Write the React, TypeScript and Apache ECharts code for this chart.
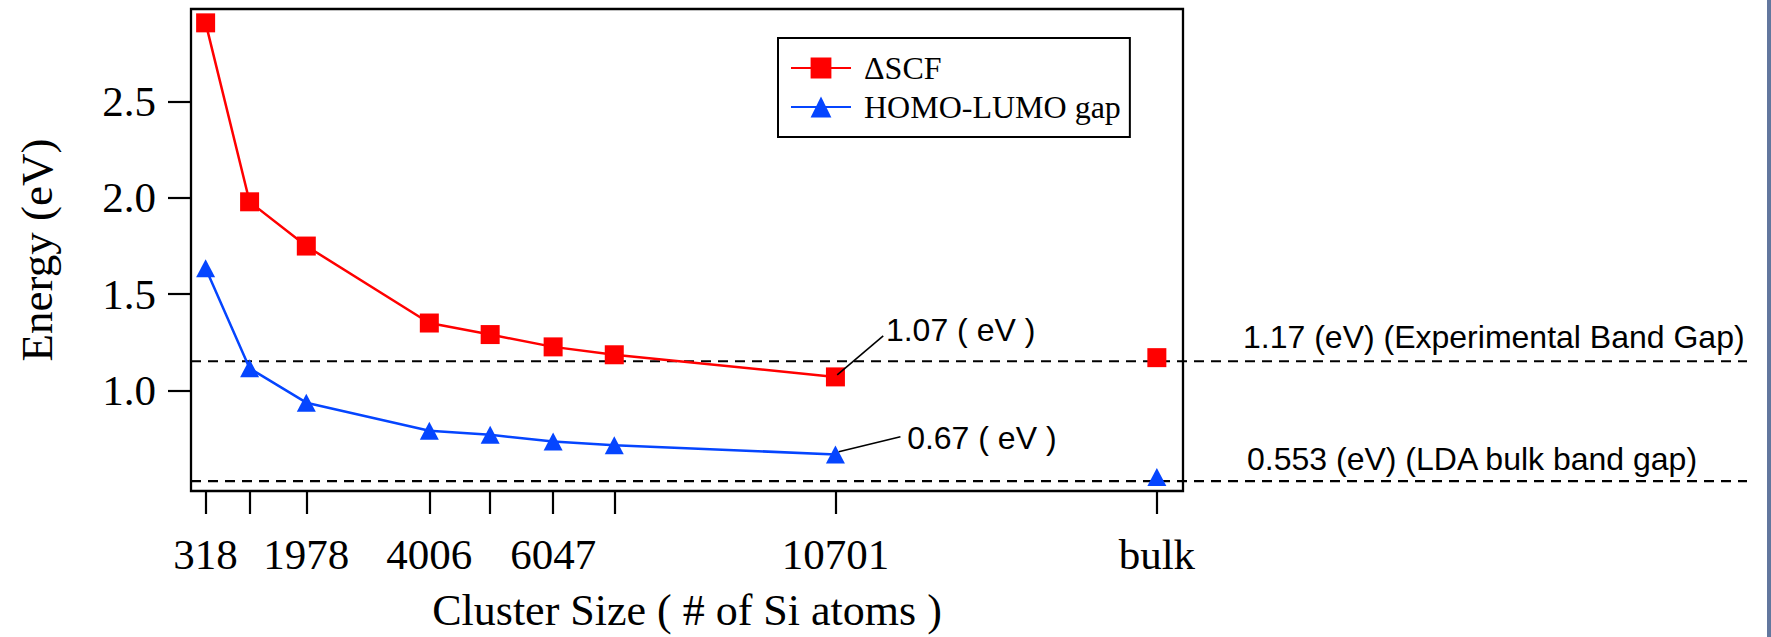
import React, { useEffect, useRef } from 'react';
import * as echarts from 'echarts';

// ---- data ----
const clusterSizes = [318, 1043, 1978, 4006, 5009, 6047, 7055, 10701];
const dscfValues = [2.91, 1.98, 1.75, 1.35, 1.29, 1.226, 1.185, 1.07];
const homoLumoValues = [1.635, 1.115, 0.936, 0.79, 0.769, 0.734, 0.715, 0.667];
const bulkPosition = 16000;
const bulkDscf = 1.17;
const bulkHomoLumo = 0.55;

const xTickValues = [318, 1043, 1978, 4006, 5009, 6047, 7055, 10701, 16000];
const xLabelValues = [318, 1978, 4006, 6047, 10701, 16000];
const xLabelTexts = ['318', '1978', '4006', '6047', '10701', 'bulk'];
const yTickValues = [1.0, 1.5, 2.0, 2.5];

const refLineValues = [1.17, 0.553];
const refLineTexts = ['1.17 (eV) (Experimental Band Gap)', '0.553 (eV) (LDA bulk band gap)'];
const calloutTexts = ['1.07 ( eV )', '0.67 ( eV )'];

// ---- styles / layout ----
const RED = '#ff0000';
const BLUE = '#0545ff';
const SERIF = 'Liberation Serif';
const SANS = 'Liberation Sans';
const refLabelOffsets = [
  [-504, -24],
  [-500, -22],
];
const calloutOffsets = [
  { line: [1.8, -2, 47.8, -41], text: [50.5, -47] },
  { line: [3.3, -2.7, 65, -17.7], text: [71.7, -16] },
];

const calloutPoints = [
  [clusterSizes[7], dscfValues[7]],
  [clusterSizes[7], homoLumoValues[7]],
];

const option: any = {
  animation: false,
  backgroundColor: '#ffffff',
  grid: [
    {
      left: 191, top: 9, width: 992, height: 487,
      show: true, borderColor: '#000', borderWidth: 2.3, backgroundColor: 'transparent',
    },
    { left: 191, top: 9, width: 1556, height: 487, show: false },
  ],
  xAxis: [
    {
      type: 'value', gridIndex: 0, min: 77, max: 16431,
      axisLine: { show: false },
      splitLine: { show: false },
      axisTick: { show: true, inside: false, length: 23, lineStyle: { color: '#000', width: 2.2 }, customValues: xTickValues },
      axisLabel: {
        customValues: xLabelValues,
        formatter: (v: number) => {
          const i = xLabelValues.indexOf(v);
          return i >= 0 ? xLabelTexts[i] : '';
        },
        margin: 42, color: '#000', fontFamily: SERIF, fontSize: 43,
      },
      name: 'Cluster Size ( # of Si atoms )',
      nameLocation: 'middle', nameGap: 97,
      nameTextStyle: { fontFamily: SERIF, fontSize: 44, color: '#000' },
    },
    { type: 'value', gridIndex: 1, min: 0, max: 1, show: false },
  ],
  yAxis: [
    {
      type: 'value', gridIndex: 0, min: 0.477, max: 2.982,
      axisLine: { show: false },
      splitLine: { show: false },
      axisTick: { show: true, inside: false, length: 23, lineStyle: { color: '#000', width: 2.2 }, customValues: yTickValues },
      axisLabel: {
        customValues: yTickValues,
        formatter: (v: number) => v.toFixed(1),
        margin: 35, color: '#000', fontFamily: SERIF, fontSize: 43,
      },
      name: 'Energy (eV)', nameLocation: 'middle', nameGap: 132, nameRotate: 90,
      nameTextStyle: { fontFamily: SERIF, fontSize: 45, color: '#000' },
    },
    { type: 'value', gridIndex: 1, min: 0.477, max: 2.982, show: false },
  ],
  legend: {
    data: ['ΔSCF', 'HOMO-LUMO gap'],
    orient: 'vertical', left: 778, top: 38,
    itemWidth: 60, itemHeight: 26, itemGap: 7,
    padding: [14, 9, 14, 12],
    borderColor: '#000', borderWidth: 2, backgroundColor: '#fff',
    selectedMode: false,
    textStyle: { fontFamily: SERIF, fontSize: 32, color: '#000', padding: [0, 0, 0, 8] },
  },
  graphic: [
    { type: 'rect', right: 0, top: 0, shape: { width: 4, height: 637 }, style: { fill: '#62779e' } },
  ],
  series: [
    {
      type: 'custom', name: 'refLines', xAxisIndex: 1, yAxisIndex: 1, silent: true, z: 1,
      data: refLineValues.map((v, i) => [0, v, i]),
      renderItem: (params: any, api: any) => {
        const v = api.value(1);
        const p0 = api.coord([0, v]);
        const p1 = api.coord([1, v]);
        const off = refLabelOffsets[params.dataIndex];
        return {
          type: 'group',
          children: [
            {
              type: 'line',
              shape: { x1: p0[0], y1: p0[1], x2: p1[0], y2: p1[1] },
              style: { stroke: '#000', lineWidth: 2.2, lineDash: [10, 7] },
            },
            {
              type: 'text',
              style: {
                text: refLineTexts[params.dataIndex],
                x: p1[0] + off[0], y: p0[1] + off[1],
                fill: '#000', font: `32px "${SANS}"`,
                textAlign: 'left', textVerticalAlign: 'middle',
              },
            },
          ],
        };
      },
    },
    {
      type: 'line', name: 'ΔSCF', xAxisIndex: 0, yAxisIndex: 0, z: 3,
      data: clusterSizes.map((x, i) => [x, dscfValues[i]]),
      symbol: 'rect', symbolSize: 19,
      itemStyle: { color: RED, opacity: 1 }, lineStyle: { color: RED, width: 2.5 },
    },
    {
      type: 'scatter', name: 'ΔSCF bulk', xAxisIndex: 0, yAxisIndex: 0, z: 3,
      data: [[bulkPosition, bulkDscf]],
      symbol: 'rect', symbolSize: 19, itemStyle: { color: RED, opacity: 1 },
    },
    {
      type: 'line', name: 'HOMO-LUMO gap', xAxisIndex: 0, yAxisIndex: 0, z: 3,
      data: clusterSizes.map((x, i) => [x, homoLumoValues[i]]),
      symbol: 'triangle', symbolSize: [19, 18],
      itemStyle: { color: BLUE, opacity: 1 }, lineStyle: { color: BLUE, width: 2.5 },
    },
    {
      type: 'scatter', name: 'HOMO-LUMO bulk', xAxisIndex: 0, yAxisIndex: 0, z: 3,
      data: [[bulkPosition, bulkHomoLumo]],
      symbol: 'triangle', symbolSize: [19, 18], itemStyle: { color: BLUE, opacity: 1 },
    },
    {
      type: 'custom', name: 'callouts', xAxisIndex: 0, yAxisIndex: 0, silent: true, z: 4,
      data: calloutPoints,
      renderItem: (params: any, api: any) => {
        const p = api.coord([api.value(0), api.value(1)]);
        const o = calloutOffsets[params.dataIndex];
        return {
          type: 'group',
          children: [
            {
              type: 'line',
              shape: { x1: p[0] + o.line[0], y1: p[1] + o.line[1], x2: p[0] + o.line[2], y2: p[1] + o.line[3] },
              style: { stroke: '#000', lineWidth: 1.6 },
            },
            {
              type: 'text',
              style: {
                text: calloutTexts[params.dataIndex],
                x: p[0] + o.text[0], y: p[1] + o.text[1],
                fill: '#000', font: `32px "${SANS}"`,
                textAlign: 'left', textVerticalAlign: 'middle',
              },
            },
          ],
        };
      },
    },
  ],
};

export default function App() {
  const ref = useRef<HTMLDivElement>(null);
  useEffect(() => {
    document.body.style.margin = '0';
    const chart = echarts.init(ref.current as HTMLDivElement, null, { renderer: 'svg' });
    chart.setOption(option);
    return () => chart.dispose();
  }, []);
  return <div ref={ref} style={{ width: 1771, height: 637 }} />;
}
